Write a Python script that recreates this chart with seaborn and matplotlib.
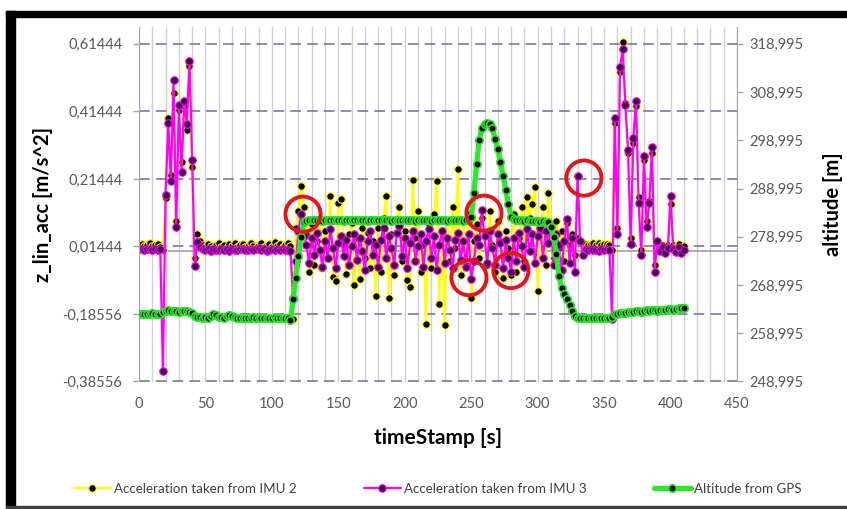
import matplotlib
matplotlib.use("Agg")
import matplotlib.pyplot as plt
from matplotlib.patches import Rectangle
from matplotlib.ticker import FixedLocator, FuncFormatter, MultipleLocator
import pandas as pd
import seaborn as sns

# Sample clock of the logger: one record every 2 s
time_s = list(range(0, 411, 2))

# Vertical linear acceleration from IMU 2 [m/s^2]
acc_imu2 = [
    0.018, 0.022, 0.015, 0.020, 0.024, 0.016, 0.019, 0.021, 0.014,
    0.004, 0.157, 0.395, 0.225, 0.470, 0.090, 0.420, 0.265, 0.430, 0.360, 0.550, 0.250, -0.020,
    0.050, 0.030, 0.018, 0.012, 0.022, 0.015, 0.010, 0.020, 0.024, 0.014,
    0.018, 0.011, 0.021, 0.016, 0.025, 0.013, 0.019, 0.022, 0.012, 0.017,
    0.024, 0.015, 0.011, 0.020, 0.026, 0.014, 0.018, 0.023, 0.012, 0.027,
    0.016, 0.021, 0.013, 0.019, 0.024, 0.015,
    -0.200, 0.070,
    0.120, 0.193, 0.130, 0.050, -0.062, 0.080, -0.040, 0.030, 0.095, -0.050,
    0.060, -0.020, 0.165, -0.075, -0.087, 0.142, 0.154, 0.020, -0.067, 0.050,
    0.085, -0.100, 0.040, -0.082, 0.070, -0.020, 0.055, -0.050, 0.030, -0.132,
    0.070, -0.060, 0.100, 0.165, -0.137, 0.050, -0.070, 0.095, 0.130, -0.030,
    0.060, -0.085, -0.107, 0.211, 0.040, 0.120, -0.060, 0.020, -0.214, 0.080,
    -0.050, 0.110, 0.208, -0.155, 0.060, -0.218, 0.090, -0.030, 0.130, 0.010,
    0.244, -0.070, 0.090, -0.040, 0.110, -0.137, 0.030, 0.080, -0.020, 0.100,
    0.050, -0.040, 0.120, 0.020, -0.060, 0.090, 0.030, -0.080, 0.060, 0.010,
    -0.070, 0.110, -0.060, 0.040, 0.130, -0.030, 0.160, 0.100, 0.140, 0.190,
    -0.117, 0.060, 0.130, -0.040, 0.172, 0.050, -0.020, 0.090, 0.010, 0.060,
    -0.030, 0.084, 0.020, 0.050, -0.010, 0.040, 0.030, 0.025, 0.022, 0.020,
    0.022, 0.025, 0.020, 0.024, 0.019, 0.023, 0.021, 0.018,
    0.005, 0.380, 0.070, 0.530, 0.621, 0.440, 0.290, 0.040, 0.320, 0.430,
    0.160, 0.005, 0.270, 0.090, 0.150, 0.290, -0.040, 0.025, 0.015, 0.020,
    0.010, 0.018, 0.140, 0.020, 0.012, 0.022, 0.010, 0.016,
]

# Vertical linear acceleration from IMU 3 [m/s^2]
acc_imu3 = [
    0.006, 0.008, 0.005, 0.007, 0.006, 0.004, 0.007, 0.005, 0.006,
    -0.355, 0.167, 0.381, 0.209, 0.508, 0.072, 0.432, 0.236, 0.445, 0.378, 0.565, 0.271, -0.042,
    0.028, 0.014, 0.008, 0.004, 0.006, 0.002, 0.007, 0.005, 0.003, 0.008,
    0.004, 0.006, 0.002, 0.007, 0.005, 0.003, 0.006, 0.008, 0.004, 0.005,
    0.007, 0.003, 0.006, 0.009, 0.004, 0.006, 0.002, 0.005, 0.007, 0.004,
    0.006, 0.003, 0.008, 0.005, 0.004, 0.002,
    -0.137, -0.030,
    0.060, 0.110, 0.045, 0.020, -0.035, 0.040, -0.010, 0.055, 0.005, -0.045,
    0.030, -0.020, 0.065, 0.010, -0.050, 0.025, 0.045, -0.015, 0.035, -0.040,
    0.015, 0.050, -0.025, 0.040, 0.000, -0.055, 0.030, 0.060, -0.010, 0.020,
    -0.045, 0.035, 0.070, -0.020, 0.045, 0.010, -0.040, 0.055, 0.075, -0.015,
    0.040, -0.050, 0.025, 0.060, -0.030, 0.015, 0.050, -0.045, 0.030, 0.065,
    -0.020, 0.045, -0.055, 0.020, 0.060, -0.035, 0.040, 0.005, -0.050, 0.035,
    0.055, -0.025, 0.030, -0.045, 0.050, -0.082, -0.030, 0.040, 0.020, 0.122,
    0.045, -0.035, 0.060, 0.010, -0.040, 0.050, 0.025, -0.050, 0.035, -0.020,
    -0.060, 0.040, -0.030, 0.055, 0.015, -0.045, 0.065, 0.000, 0.050, -0.035,
    0.045, 0.070, -0.020, 0.060, 0.025, 0.075, -0.040, 0.050, 0.020, -0.055,
    0.030, 0.095, -0.035, 0.040, -0.060, 0.223, 0.030, -0.010, 0.008, 0.004,
    0.006, 0.003, 0.005, 0.002, 0.007, 0.004, 0.006, 0.005,
    -0.200, 0.396, 0.052, 0.545, 0.600, 0.432, 0.301, 0.023, 0.336, 0.445,
    0.142, -0.012, 0.281, 0.072, 0.142, 0.309, -0.062, 0.030, 0.002, 0.012,
    -0.005, 0.010, 0.164, 0.008, -0.002, 0.012, -0.004, 0.004,
]

# GPS altitude [m]
alt_gps = [
    263.0, 263.0, 262.9, 263.0, 263.0, 263.1, 263.0, 262.9, 263.0,
    263.4, 263.7, 263.8, 263.7, 263.6, 263.7, 263.5, 263.6, 263.7, 263.6, 263.5, 263.3,
    262.5, 262.3, 262.3, 262.2, 262.3, 262.2,
    262.6, 262.9, 262.7, 262.4,
    262.3, 262.2,
    262.6, 262.8, 262.5,
    262.3, 262.2, 262.1, 262.2, 262.2, 262.1, 262.2, 262.3, 262.2, 262.1,
    262.2, 262.2, 262.1, 262.2, 262.2, 262.3, 262.2, 262.1, 262.2, 262.2, 262.1,
    261.8, 266.0, 270.5, 275.0, 279.0, 282.0,
    282.3, 282.4, 282.4, 282.5, 282.4, 282.4, 282.3, 282.4, 282.5, 282.4,
    282.4, 282.5, 282.4, 282.4, 282.3, 282.4, 282.4, 282.5, 282.4, 282.4,
    282.5, 282.4, 282.4, 282.3, 282.4, 282.5, 282.4, 282.4, 282.4, 282.5,
    282.4, 282.4, 282.3, 282.4, 282.4, 282.5, 282.4, 282.4, 282.4, 282.5,
    282.4, 282.3, 282.4, 282.4, 282.5, 282.4, 282.4, 282.3, 282.4, 282.4,
    282.5, 282.4, 282.4, 282.3, 282.4, 282.4, 282.5, 282.4, 282.4, 282.3,
    282.4,
    282.5, 283.0, 288.0, 294.0, 299.0, 301.5, 302.3, 302.5, 302.3, 301.5,
    299.3, 297.3, 294.5, 291.6, 288.7, 285.8, 283.2, 282.6,
    282.5, 282.4, 282.4, 282.3, 282.4, 282.3, 282.2, 282.3, 282.2, 282.1, 282.2, 282.1,
    282.0, 281.0, 279.0, 275.5, 270.8, 268.4, 267.2, 266.0, 264.8, 263.6, 262.6, 262.2,
    262.1, 262.2, 262.1, 262.2, 262.2, 262.1, 262.2, 262.1, 262.2, 262.2, 262.1, 262.2, 262.3,
    262.9, 263.0, 263.1, 263.2, 263.3, 263.4, 263.4, 263.5, 263.6, 263.6,
    263.5, 263.7, 263.8, 263.7, 263.8, 263.8, 263.7, 263.9, 263.8, 263.9,
    264.0, 264.0, 263.9, 264.1, 264.2, 264.2, 264.3,
]

# Axis ticks
acc_ticks = [-0.38556, -0.18556, 0.01444, 0.21444, 0.41444, 0.61444]
alt_ticks = [248.995, 258.995, 268.995, 278.995, 288.995, 298.995, 308.995, 318.995]
time_ticks = [0, 50, 100, 150, 200, 250, 300, 350, 400, 450]

# Samples marked with red rings
highlight_t = [123.4, 259.6, 248.3, 279.9, 334.8]
highlight_acc = [0.110, 0.113, -0.078, -0.057, 0.217]

series_labels = ["Acceleration taken from IMU 2",
                 "Acceleration taken from IMU 3",
                 "Altitude from GPS"]

YELLOW = "#FFFF00"
MAGENTA = "#FF00FF"
GREEN = "#2BE82B"
TICK_GREY = "#595959"
AXIS_GREY = "#A6A6A6"

sns.set_style("white")
plt.rcParams["font.family"] = ["Lato", "DejaVu Sans"]

W, H = 847, 509
fig = plt.figure(figsize=(W / 100, H / 100), dpi=100)
fig.patch.set_facecolor("white")

ax_left, ax_right, ax_top, ax_bottom = 139, 737, 27, 381.5
ax = fig.add_axes([ax_left / W, 1 - ax_bottom / H,
                   (ax_right - ax_left) / W, (ax_bottom - ax_top) / H])
ax2 = ax.twinx()

df = pd.DataFrame({"t": time_s, "imu2": acc_imu2, "imu3": acc_imu3, "alt": alt_gps})

line_kw = dict(estimator=None, legend=False, marker="o", markersize=5.4,
               markerfacecolor="black")
sns.lineplot(data=df, x="t", y="imu2", ax=ax, color=YELLOW, linewidth=1.6,
             markeredgecolor=YELLOW, markeredgewidth=0.8, **line_kw)
sns.lineplot(data=df, x="t", y="imu3", ax=ax, color=MAGENTA, linewidth=1.6,
             markeredgecolor=MAGENTA, markeredgewidth=0.8,
             **{**line_kw, "markerfacecolor": "#3A0045"})
sns.lineplot(data=df, x="t", y="alt", ax=ax2, color=GREEN, linewidth=3.8,
             markeredgecolor=GREEN, markeredgewidth=1.2, **line_kw)
handles = [ax.lines[0], ax.lines[1], ax2.lines[0]]

# Horizontal axis line at zero acceleration
ax.axhline(0, color="#A0A0A0", linewidth=1.2, zorder=1.5)

# Red rings around notable samples (acceleration units, drawn on top)
ax2.scatter(highlight_t, highlight_acc, transform=ax.transData, s=640,
            facecolors="none", edgecolors="#E3151A", linewidths=2.8, zorder=10)

# Limits
ax.set_xlim(0, 450)
ax.set_ylim(-0.38556, 0.66444)
ax2.set_ylim(248.995, 322.495)

# Grid
ax.set_axisbelow(True)
ax.xaxis.set_major_locator(FixedLocator(time_ticks))
ax.xaxis.set_minor_locator(MultipleLocator(10))
ax.grid(axis="x", which="both", color="#D0D0D0", linewidth=1.0)
ax.yaxis.set_major_locator(FixedLocator(acc_ticks))
ax.grid(axis="y", which="major", color="#6C6CA4", linewidth=1.1,
        linestyle=(0, (7, 4)))

ax2.yaxis.set_major_locator(FixedLocator(alt_ticks))
ax2.grid(False)

ax.yaxis.set_major_formatter(FuncFormatter(lambda v, p: f"{v:.5f}".replace(".", ",")))
ax2.yaxis.set_major_formatter(FuncFormatter(lambda v, p: f"{v:.3f}".replace(".", ",")))

# Spines
for a in (ax, ax2):
    for side in ("top", "bottom"):
        a.spines[side].set_visible(False)
ax.spines["right"].set_visible(False)
ax2.spines["left"].set_visible(False)
ax.spines["left"].set_color(AXIS_GREY)
ax2.spines["right"].set_color(AXIS_GREY)

# Ticks
ax.tick_params(axis="x", which="both", length=0, labelsize=10.5,
               labelcolor=TICK_GREY, pad=11)
ax.tick_params(axis="y", left=True, direction="out", length=4, width=1,
               color=AXIS_GREY, labelsize=10.5, labelcolor=TICK_GREY, pad=8)
ax2.tick_params(axis="y", right=True, direction="out", length=4, width=1,
                color=AXIS_GREY, labelsize=10.5, labelcolor=TICK_GREY, pad=5)

# Axis titles
ax.set_xlabel("timeStamp [s]", fontsize=15, fontweight="bold", color="black")
ax.xaxis.set_label_coords(0.5, -0.131)
ax.set_ylabel("z_lin_acc [m/s^2]", fontsize=14.5, fontweight="bold", color="black")
ax.yaxis.set_label_coords(-0.1438, 0.5)
ax2.set_ylabel("altitude [m]", fontsize=14.5, fontweight="bold", color="black")
ax2.yaxis.set_label_coords(1.1438, 0.5)

# Legend below the chart
fig.legend(handles, series_labels, loc="center", bbox_to_anchor=(0.517, 1 - 489 / H),
           ncol=3, frameon=False, fontsize=9.6, handlelength=2.8,
           handletextpad=0.25, columnspacing=5.0, labelcolor="#404040")

# Frame around the chart
fig.add_artist(Rectangle((6 / W, 0), 9 / W, (H - 11) / H,
                         transform=fig.transFigure, color="black", zorder=20))
fig.add_artist(Rectangle((6 / W, (H - 17) / H), (W - 6) / W, 6 / H,
                         transform=fig.transFigure, color="black", zorder=20))
fig.add_artist(Rectangle((6 / W, 1 / H), (W - 6) / W, 2 / H,
                         transform=fig.transFigure, color="#404040", zorder=20))

fig.savefig("out.png", dpi=100)
